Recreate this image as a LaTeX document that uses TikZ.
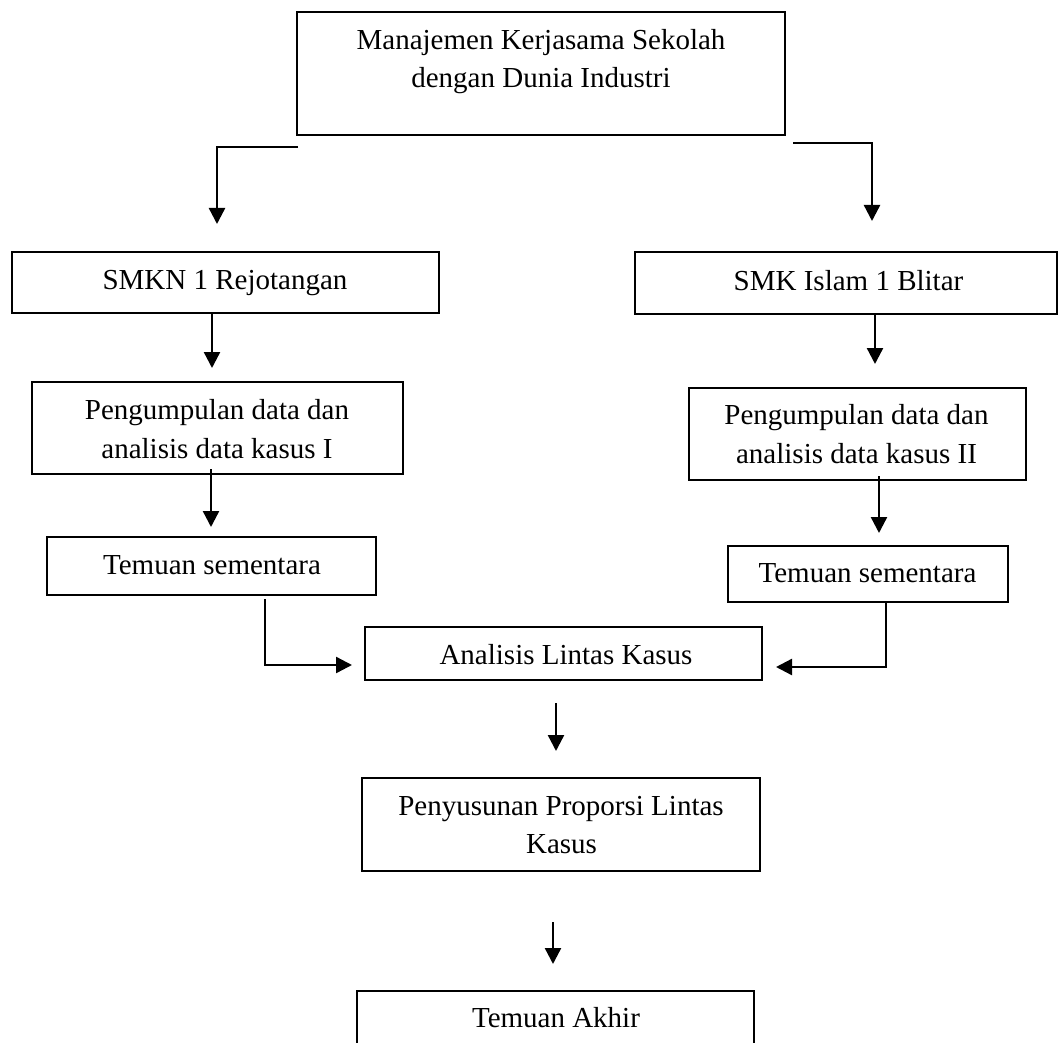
\documentclass[tikz,border=0pt]{standalone}
\usepackage{fontspec}
\setmainfont{Liberation Serif}
\usetikzlibrary{arrows.meta,calc}
\begin{document}
\begin{tikzpicture}[x=1pt,y=-1pt,
  box/.style={draw=black,line width=2pt,inner sep=0pt,outer sep=0pt},
  txt/.style={inner sep=0pt,outer sep=0pt,anchor=base,font=\fontsize{29}{38.5}\selectfont},
  arr/.style={line width=2.4pt,-{Triangle[length=16pt,width=16pt]}}]
\clip (0,0) rectangle (1060,1043);
\useasboundingbox (0,0) rectangle (1060,1043);
\fill[white] (0,0) rectangle (1060,1043);
% boxes
\node[box,minimum width=488pt,minimum height=123pt] (top)   at (541,73.5) {};
\node[box,minimum width=427pt,minimum height=61pt]  (smkn)  at (225.5,282.5) {};
\node[box,minimum width=422pt,minimum height=62pt]  (islam) at (846,283) {};
\node[box,minimum width=371pt,minimum height=92pt]  (peng1) at (217.5,428) {};
\node[box,minimum width=337pt,minimum height=92pt]  (peng2) at (857.5,434) {};
\node[box,minimum width=329pt,minimum height=58pt]  (tem1)  at (211.5,566) {};
\node[box,minimum width=280pt,minimum height=56pt]  (tem2)  at (868,574) {};
\node[box,minimum width=397pt,minimum height=53pt]  (anal)  at (563.5,653.5) {};
\node[box,minimum width=398pt,minimum height=93pt]  (peny)  at (561,824.5) {};
\node[box,minimum width=397pt,minimum height=69pt]  (akhir) at (555.5,1025.5) {};
% texts
\node[txt] (ttop1) at (541,50) {Manajemen Kerjasama Sekolah};
\node[txt] (ttop2) at (541,88) {dengan Dunia Industri};
\node[txt] (tsmkn) at (225,289) {SMKN 1 Rejotangan};
\node[txt] (tislam) at (848.5,290) {SMK Islam 1 Blitar};
\node[txt] (tpeng1a) at (217,419) {Pengumpulan data dan};
\node[txt] (tpeng1b) at (217,458) {analisis data kasus I};
\node[txt] (tpeng2a) at (856.5,424) {Pengumpulan data dan};
\node[txt] (tpeng2b) at (856.5,463) {analisis data kasus II};
\node[txt] (ttem1) at (212,574) {Temuan sementara};
\node[txt] (ttem2) at (867.5,582) {Temuan sementara};
\node[txt] (tanal) at (566,664) {Analisis Lintas Kasus};
\node[txt] (tpenya) at (561,815) {Penyusunan Proporsi Lintas};
\node[txt] (tpenyb) at (561.5,853) {Kasus};
\node[txt] (takhir) at (556,1027) {Temuan Akhir};
% connector ends
\coordinate (l1s) at (298,147);  \coordinate (l1e) at (217,224);
\coordinate (r1s) at (793,143);  \coordinate (r1e) at (872,221);
\coordinate (a3) at (212,368);
\coordinate (a4) at (875,364);
\coordinate (a5s) at (211,469);  \coordinate (a5e) at (211,527);
\coordinate (a6s) at (879,476);  \coordinate (a6e) at (879,533);
\coordinate (a7s) at (265,599);  \coordinate (a7e) at (352,665);
\coordinate (a8e) at (776,667);  \coordinate (a8x) at (886,0);
\coordinate (a9s) at (556,703);  \coordinate (a9e) at (556,751);
\coordinate (a10s) at (553,922); \coordinate (a10e) at (553,964);
% connectors
\draw[arr] (l1s) -| (l1e);
\draw[arr] (r1s) -| (r1e);
\draw[arr] (smkn.south -| a3) -- (a3);
\draw[arr] (islam.south -| a4) -- (a4);
\draw[arr] (a5s) -- (a5e);
\draw[arr] (a6s) -- (a6e);
\draw[arr] (a7s) |- (a7e);
\draw[arr] (tem2.south -| a8x) |- (a8e);
\draw[arr] (a9s) -- (a9e);
\draw[arr] (a10s) -- (a10e);
\end{tikzpicture}
\end{document}
